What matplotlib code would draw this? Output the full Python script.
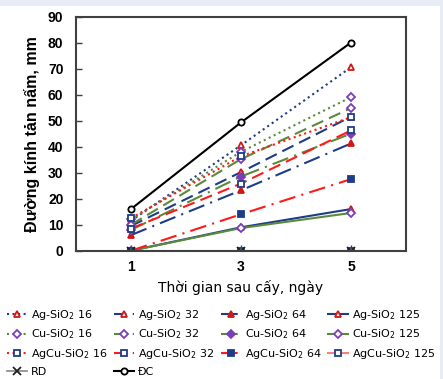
import matplotlib
matplotlib.use("Agg")
import matplotlib.pyplot as plt
from matplotlib.patches import Rectangle

# du lieu doc tu hinh
ngay = [1, 3, 5]

ag_16 = [11.5, 40.5, 70.5]
ag_32 = [9.5, 30.2, 51.5]
ag_64 = [6.0, 23.2, 41.2]
ag_125 = [0.0, 9.0, 16.0]

cu_16 = [12.0, 38.0, 59.0]
cu_32 = [10.0, 35.2, 54.8]
cu_64 = [8.0, 28.5, 45.0]
cu_125 = [0.0, 8.7, 14.5]

agcu_16 = [12.5, 36.3, 51.3]
agcu_32 = [8.5, 25.8, 46.2]
agcu_64 = [0.0, 14.0, 27.5]
agcu_125 = [0.0, 0.0, 0.0]

rd = [0.0, 0.0, 0.0]
dc = [16.0, 49.3, 80.0]

y_ticks = [0, 10, 20, 30, 40, 50, 60, 70, 80, 90]

# mau
XANH = "#1F3C88"
LUC = "#5A8A3C"
DO = "#FF1A1A"
HONG = "#FF7F7F"
TIM = "#7B3FB5"
DO_TAM = "#D01818"

fig = plt.figure(figsize=(4.43, 3.79), dpi=100)
fig.patch.set_facecolor("#E8ECF6")
fig.patches.append(Rectangle((0, 0), 440 / 443, 373 / 379, transform=fig.transFigure,
                             facecolor="white", edgecolor="none", zorder=-10))

ax = fig.add_axes([76 / 443, 128.3 / 379, 330 / 443, 234.2 / 379])

ms = 4.5

def ve(y, mau, kieu, marker, mau_mk, day, nhan, lw=1.5):
    mf = mau_mk if day else "white"
    h, = ax.plot(ngay, y, color=mau, linestyle=kieu, lw=lw, marker=marker,
                 markersize=ms, markeredgecolor=mau_mk, markerfacecolor=mf,
                 markeredgewidth=1.3, label=nhan)
    return h

h_ag16 = ve(ag_16, XANH, ":", "^", DO_TAM, False, "Ag-SiO$_2$ 16")
h_ag32 = ve(ag_32, XANH, (0, (6, 3)), "^", DO_TAM, False, "Ag-SiO$_2$ 32")
h_ag64 = ve(ag_64, XANH, (0, (8, 3, 1, 3)), "^", DO_TAM, True, "Ag-SiO$_2$ 64")
h_ag125 = ve(ag_125, XANH, "-", "^", DO_TAM, False, "Ag-SiO$_2$ 125")

h_cu16 = ve(cu_16, LUC, ":", "D", TIM, False, "Cu-SiO$_2$ 16")
h_cu32 = ve(cu_32, LUC, (0, (6, 3)), "D", TIM, False, "Cu-SiO$_2$ 32")
h_cu64 = ve(cu_64, LUC, (0, (8, 3, 1, 3)), "D", TIM, True, "Cu-SiO$_2$ 64")
h_cu125 = ve(cu_125, LUC, "-", "D", TIM, False, "Cu-SiO$_2$ 125")

h_agcu16 = ve(agcu_16, DO, ":", "s", XANH, False, "AgCu-SiO$_2$ 16")
h_agcu32 = ve(agcu_32, DO, (0, (6, 3)), "s", XANH, False, "AgCu-SiO$_2$ 32")
h_agcu64 = ve(agcu_64, DO, (0, (8, 3, 1, 3)), "s", XANH, True, "AgCu-SiO$_2$ 64")
h_agcu125 = ve(agcu_125, HONG, "-", "s", XANH, False, "AgCu-SiO$_2$ 125")

h_rd, = ax.plot(ngay, rd, color="#888888", lw=1.2, marker="x", markersize=5.5,
                markeredgecolor="#222222", markeredgewidth=1.3, label="RD")
h_dc, = ax.plot(ngay, dc, color="black", lw=1.5, marker="o", markersize=ms,
                markerfacecolor="white", markeredgecolor="black",
                markeredgewidth=1.3, label="ĐC")

ax.set_xlim(0, 6)
ax.set_ylim(0, 90)
ax.set_xticks(ngay)
ax.set_yticks(y_ticks)
ax.tick_params(direction="in", length=4, width=1, color="#404040")
ax.tick_params(axis="y", pad=9)
ax.tick_params(axis="x", pad=7)
for lb in ax.get_xticklabels() + ax.get_yticklabels():
    lb.set_fontfamily("Liberation Sans")
    lb.set_fontweight("bold")
    lb.set_fontsize(10)
for s in ax.spines.values():
    s.set_color("#404040")
    s.set_linewidth(1.5)

ax.set_ylabel("Đường kính tản nấm, mm", fontfamily="Liberation Sans",
              fontweight="bold", fontsize=11.5, labelpad=6)
ax.set_xlabel("Thời gian sau cấy, ngày", fontsize=10, labelpad=4)

# legend: thu tu theo cot
handles = [h_ag16, h_cu16, h_agcu16, h_rd,
           h_ag32, h_cu32, h_agcu32, h_dc,
           h_ag64, h_cu64, h_agcu64,
           h_ag125, h_cu125, h_agcu125]
fig.legend(handles=handles, labels=[h.get_label() for h in handles],
           ncol=4, loc="upper left", bbox_to_anchor=(0.0, 78 / 379),
           frameon=False, fontsize=8, handlelength=1.8, handletextpad=0.35,
           columnspacing=0.6, labelspacing=0.52, borderaxespad=0.2)

fig.savefig("out.png", dpi=100, facecolor=fig.get_facecolor())
